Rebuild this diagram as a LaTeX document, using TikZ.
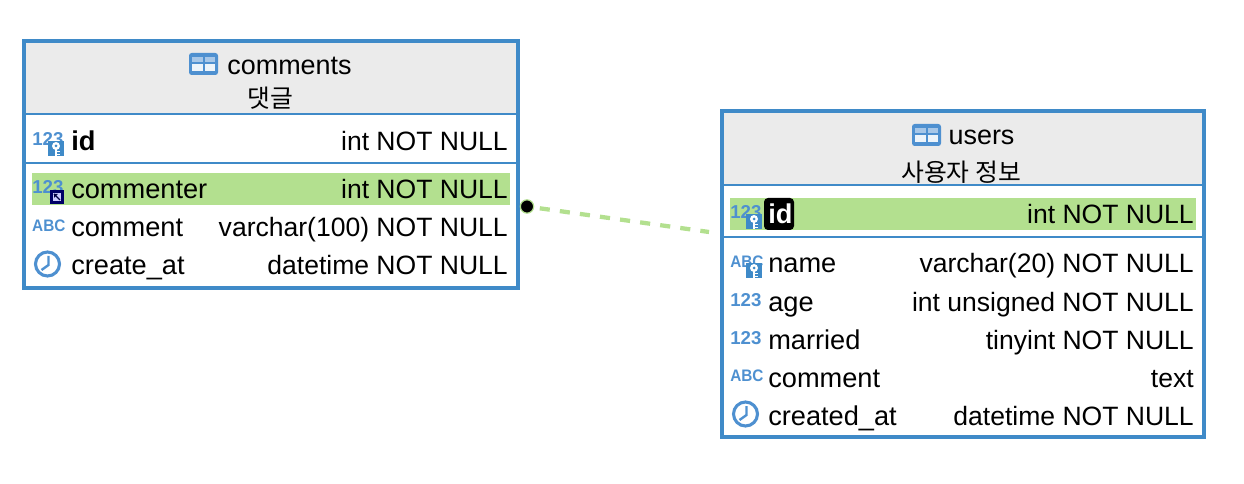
\documentclass[tikz,border=0pt]{standalone}
\usepackage{fontspec}
\setmainfont{Liberation Sans}
\newfontfamily\krfont{Noto Sans CJK KR}
\usetikzlibrary{positioning}

\definecolor{tblblue}{HTML}{3F8AC8}
\definecolor{iconblue}{HTML}{4E90D0}
\definecolor{headgray}{HTML}{EBEBEB}
\definecolor{fkgreen}{HTML}{B3E08F}

\tikzset{
  x=0.75pt,y=-0.75pt,
  colname/.style={anchor=base west,inner sep=0pt,font=\fontsize{20.4}{20.4}\selectfont},
  coltype/.style={anchor=base east,inner sep=0pt,font=\fontsize{19.9}{19.9}\selectfont},
  title/.style={anchor=base,inner sep=0pt,font=\fontsize{20.2}{20.2}\selectfont},
  subtitle/.style={anchor=base,inner sep=0pt,font=\krfont\fontsize{18.6}{18.6}\selectfont},
  numlabel/.style={anchor=base west,inner sep=0pt,text=iconblue,font=\bfseries\fontsize{14}{14}\selectfont},
  abclabel/.style={anchor=base west,inner sep=0pt,text=iconblue,xscale=0.92,font=\bfseries\fontsize{12.5}{12.5}\selectfont},
  tablebox/.style={draw=tblblue,line width=2.7pt},
  sepline/.style={draw=tblblue,line width=1.5pt},
  clockicon/.pic={
    \draw[iconblue,line width=2.3pt] (0,0) circle (12);
    \draw[iconblue,line width=1.8pt] (1,-8) -- (1,1) -- (-6,6);
  },
  keyicon/.pic={
    \fill[tblblue] (-8,-7.5) rectangle (8,7.5);
    \fill[white] (0,-3) circle (4);
    \fill[white] (-1,-1) rectangle (1,7);
    \fill[white] (1,2) rectangle (4,3.5);
    \fill[white] (1,5) rectangle (4,6.5);
    \fill[tblblue] (0,-3) circle (1.5);
  },
  linkicon/.pic={
    \fill[black!60!blue] (-7,-7) rectangle (7,7);
    \fill[white!80!blue] (-4,-4) rectangle (4,4);
    \draw[black!75!blue,line width=1pt] (-3,-3) -- (3,3);
    \fill[black!75!blue] (-3,-3) -- (1,-3) -- (-3,1) -- cycle;
  },
  tableicon/.pic={
    \fill[iconblue,rounded corners=2pt] (0,0) rectangle (29,22);
    \fill[iconblue!50!white] (3,4) rectangle (13.5,9);
    \fill[iconblue!50!white] (15.5,4) rectangle (26,9);
    \fill[white!90!iconblue] (3,11.5) rectangle (13.5,18);
    \fill[white!90!iconblue] (15.5,11.5) rectangle (26,18);
  }
}

\begin{document}
\begin{tikzpicture}
\useasboundingbox (0,0) rectangle (1244,484);

% comments table
\fill[headgray] (24,41) rectangle (518,114);
\fill[fkgreen] (32,173) rectangle (510,205);
\draw[sepline] (24,114) -- (518,114);
\draw[sepline] (24,163) -- (518,163);
\draw[tablebox] (24,41) rectangle (518,288);

\pic at (189,53) {tableicon};
\node[title] (commentstitle) at (289.5,75) {comments};
\node[subtitle] (commentssub) at (270,108) {댓글};

\node[numlabel] (commentsidnum) at (32,146) {123};
\pic at (56,149) {keyicon};
\node[colname,font=\bfseries\fontsize{20.4}{20.4}\selectfont] (commentsid) at (71,151) {id};
\node[coltype] (commentsidtype) at (508,151) {int NOT NULL};

\node[numlabel] (commenternum) at (32,194) {123};
\pic at (57,197) {linkicon};
\node[colname] (commenter) at (71,199) {commenter};
\node[coltype] (commentertype) at (508,199) {int NOT NULL};

\node[abclabel] (commentabc) at (32,232) {ABC};
\node[colname] (comment) at (71,237) {comment};
\node[coltype] (commenttype) at (508,237) {varchar(100) NOT NULL};

\pic at (47.5,264) {clockicon};
\node[colname] (createat) at (71,275) {create\_at};
\node[coltype] (createattype) at (508,275) {datetime NOT NULL};

% users table
\fill[headgray] (722,111) rectangle (1204,185);
\fill[fkgreen] (730,198) rectangle (1196,230);
\draw[sepline] (722,185) -- (1204,185);
\draw[sepline] (722,237) -- (1204,237);
\draw[tablebox] (722,111) rectangle (1204,437);

\pic at (912,124) {tableicon};
\node[title] (userstitle) at (981.5,145) {users};
\node[subtitle] (userssub) at (961,182) {사용자 정보};

\node[numlabel] (usersidnum) at (730,219) {123};
\pic at (754,222) {keyicon};
\fill[black,rounded corners=3pt] (764,198) rectangle (794,230);
\node[colname,text=white,font=\bfseries\fontsize{20.4}{20.4}\selectfont] (usersid) at (768,224) {id};
\node[coltype] (usersidtype) at (1194,224) {int NOT NULL};

\node[abclabel] (nameabc) at (730,268) {ABC};
\pic at (754,271) {keyicon};
\node[colname] (name) at (768,273) {name};
\node[coltype] (nametype) at (1194,273) {varchar(20) NOT NULL};

\node[numlabel] (agenum) at (730,306) {123};
\node[colname] (age) at (768,311) {age};
\node[coltype] (agetype) at (1194,311) {int unsigned NOT NULL};

\node[numlabel] (marriednum) at (730,344) {123};
\node[colname] (married) at (768,349) {married};
\node[coltype] (marriedtype) at (1194,349) {tinyint NOT NULL};

\node[abclabel] (usercommentabc) at (730,381) {ABC};
\node[colname] (usercomment) at (768,387) {comment};
\node[coltype] (usercommenttype) at (1194,387) {text};

\pic at (745.5,414) {clockicon};
\node[colname] (createdat) at (768,425) {created\_at};
\node[coltype] (createdattype) at (1194,425) {datetime NOT NULL};

% relation
\coordinate (fkend) at (709,232);
\node[circle,fill=black,draw=fkgreen,line width=0.9pt,minimum size=10pt,inner sep=0pt] (fkdot) at (527,206.5) {};
\draw[fkgreen,line width=3.2pt,dash pattern=on 7.6pt off 7.6pt,dash phase=11pt] (fkdot) -- (fkend);

\end{tikzpicture}
\end{document}
